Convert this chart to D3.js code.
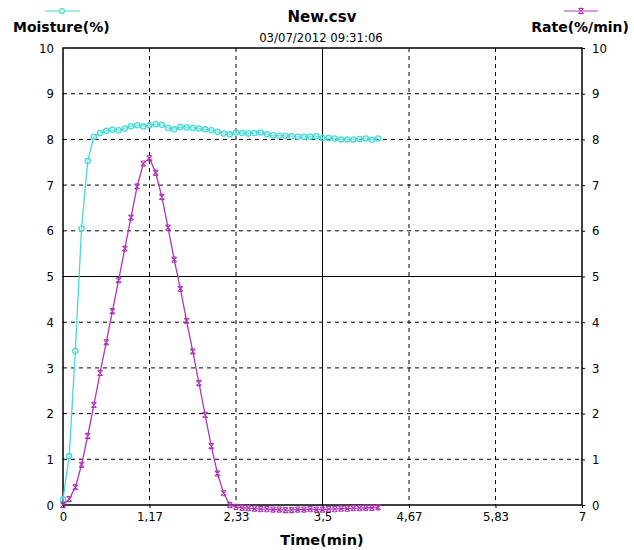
<!DOCTYPE html>
<html>
<head>
<meta charset="utf-8">
<script src="https://cdn.jsdelivr.net/npm/d3@7"></script>
<style>
    body { margin: 0; background: #fff; }
    svg { display: block; }
    .tick-label { font-family: "Liberation Sans Narrow", "DejaVu Sans Condensed", "Liberation Sans", sans-serif; font-stretch: condensed; font-size: 13px; fill: #000; }
    .bold-label { font-family: "DejaVu Sans", Tahoma, sans-serif; font-weight: bold; fill: #000; }
</style>
</head>
<body>
<svg id="chart" width="634" height="550"></svg>
<script>
// ------------------ DATA ------------------

// samples every 5 s, time in seconds
const timeSec = [0, 5, 10, 15, 20, 25, 30, 35, 40, 45, 50, 55, 60, 65, 70, 75, 80, 85, 90, 95,
    100, 105, 110, 115, 120, 125, 130, 135, 140, 145, 150, 155, 160, 165, 170, 175, 180, 185, 190, 195,
    200, 205, 210, 215, 220, 225, 230, 235, 240, 245, 250, 255];

const moisture = [0.12, 1.07, 3.37, 6.05, 7.53, 8.06, 8.14, 8.19, 8.21, 8.20,
    8.24, 8.29, 8.31, 8.28, 8.31, 8.33, 8.32, 8.25, 8.22, 8.27,
    8.26, 8.25, 8.24, 8.22, 8.20, 8.17, 8.13, 8.11, 8.15, 8.14,
    8.13, 8.14, 8.15, 8.11, 8.09, 8.08, 8.08, 8.07, 8.06, 8.05,
    8.06, 8.07, 8.03, 8.03, 8.02, 8.00, 8.00, 8.00, 8.01, 8.02,
    7.99, 8.02];

const rate = [0.0, 0.13, 0.39, 0.88, 1.51, 2.19, 2.89, 3.56, 4.24, 4.92,
    5.61, 6.29, 6.97, 7.47, 7.59, 7.27, 6.74, 6.07, 5.37, 4.73,
    4.03, 3.36, 2.67, 1.97, 1.29, 0.69, 0.26, 0.0, -0.04, -0.06,
    -0.07, -0.08, -0.09, -0.09, -0.10, -0.10, -0.11, -0.11, -0.10, -0.10,
    -0.09, -0.10, -0.10, -0.09, -0.09, -0.08, -0.08, -0.07, -0.07, -0.06,
    -0.06, -0.05];

const xTicks = [0, 7 / 6, 14 / 6, 3.5, 28 / 6, 35 / 6, 7];
const xTickLabels = ["0", "1,17", "2,33", "3,5", "4,67", "5,83", "7"];
const yTicks = [0, 1, 2, 3, 4, 5, 6, 7, 8, 9, 10];

// ------------------ SETUP ------------------

const moistureColor = "#44d8d8";
const rateColor = "#b036b8";

const svg = d3.select("#chart");
const plotLeft = 63, plotRight = 582, plotTop = 48, plotBottom = 505;

const x = d3.scaleLinear().domain([0, 7]).range([plotLeft, plotRight]);
const y = d3.scaleLinear().domain([0, 10]).range([plotBottom, plotTop]);

const moistureData = timeSec.map((t, i) => ({ t: t / 60, v: moisture[i] }));
const rateData = timeSec.map((t, i) => ({ t: t / 60, v: rate[i] }));

// ------------------ GRID ------------------

let grid = svg.append("g");

grid.selectAll("line.v")
    .data(xTicks.slice(1, -1))
    .enter().append("line")
    .attr("x1", d => x(d)).attr("x2", d => x(d))
    .attr("y1", plotTop).attr("y2", plotBottom)
    .attr("stroke", "#000")
    .attr("stroke-width", 1)
    .attr("stroke-dasharray", d => d == 3.5 ? null : "4,4");

grid.selectAll("line.h")
    .data(yTicks.slice(1, -1))
    .enter().append("line")
    .attr("x1", plotLeft).attr("x2", plotRight)
    .attr("y1", d => y(d)).attr("y2", d => y(d))
    .attr("stroke", "#000")
    .attr("stroke-width", 1)
    .attr("stroke-dasharray", d => d == 5 ? null : "4,4");

// frame
svg.append("rect")
    .attr("x", plotLeft).attr("y", plotTop)
    .attr("width", plotRight - plotLeft).attr("height", plotBottom - plotTop)
    .attr("fill", "none")
    .attr("stroke", "#000")
    .attr("stroke-width", 1.5);

// ------------------ AXES ------------------

let leftAxis = svg.append("g")
    .attr("transform", `translate(${plotLeft},0)`)
    .call(d3.axisLeft(y).tickValues(yTicks).tickSize(0).tickPadding(9).tickFormat(d3.format("d")));

let rightAxis = svg.append("g")
    .attr("transform", `translate(${plotRight},0)`)
    .call(d3.axisRight(y).tickValues(yTicks).tickSize(3).tickPadding(7).tickFormat(d3.format("d")));

let bottomAxis = svg.append("g")
    .attr("transform", `translate(0,${plotBottom})`)
    .call(d3.axisBottom(x).tickValues(xTicks).tickSize(3).tickPadding(4)
        .tickFormat((d, i) => xTickLabels[i]));

[leftAxis, rightAxis, bottomAxis].forEach(a => {
    a.select(".domain").remove();
    a.selectAll("text").attr("class", "tick-label");
});

// ------------------ SERIES ------------------

const line = d3.line().x(d => x(d.t)).y(d => y(d.v));

svg.append("path")
    .datum(moistureData)
    .attr("d", line)
    .attr("fill", "none")
    .attr("stroke", moistureColor)
    .attr("stroke-width", 1.3);

svg.append("g").selectAll("circle")
    .data(moistureData)
    .enter().append("circle")
    .attr("cx", d => x(d.t))
    .attr("cy", d => y(d.v))
    .attr("r", 2.6)
    .attr("fill", "#fff")
    .attr("fill-opacity", 0.3)
    .attr("stroke", moistureColor)
    .attr("stroke-width", 1.3);

svg.append("path")
    .datum(rateData)
    .attr("d", line)
    .attr("fill", "none")
    .attr("stroke", rateColor)
    .attr("stroke-width", 1.3);

const crossPath = "M-2.6,-2.6L2.6,2.6M-2.6,2.6L2.6,-2.6M-1.8,-2.6L1.8,-2.6M-1.8,2.6L1.8,2.6";

svg.append("g").selectAll("path")
    .data(rateData)
    .enter().append("path")
    .attr("transform", d => `translate(${x(d.t)},${y(d.v)})`)
    .attr("d", crossPath)
    .attr("fill", "none")
    .attr("stroke", rateColor)
    .attr("stroke-width", 1.1);

// ------------------ TITLES / LEGEND ------------------

svg.append("text")
    .attr("class", "bold-label")
    .attr("x", 322).attr("y", 22)
    .attr("text-anchor", "middle")
    .attr("font-size", 15)
    .text("New.csv");

svg.append("text")
    .attr("class", "tick-label")
    .attr("x", 321).attr("y", 42)
    .attr("text-anchor", "middle")
    .attr("font-size", 12)
    .text("03/07/2012 09:31:06");

// moisture legend
svg.append("line")
    .attr("x1", 45).attr("x2", 80).attr("y1", 11).attr("y2", 11)
    .attr("stroke", moistureColor).attr("stroke-width", 1.2);
svg.append("circle")
    .attr("cx", 62).attr("cy", 11).attr("r", 2.4)
    .attr("fill", "#fff").attr("stroke", moistureColor).attr("stroke-width", 1.2);
svg.append("text")
    .attr("class", "bold-label")
    .attr("x", 13).attr("y", 32)
    .attr("font-size", 14)
    .text("Moisture(%)");

// rate legend
svg.append("line")
    .attr("x1", 564).attr("x2", 598).attr("y1", 11).attr("y2", 11)
    .attr("stroke", rateColor).attr("stroke-width", 1.2);
svg.append("path")
    .attr("transform", "translate(581,11)")
    .attr("d", crossPath)
    .attr("fill", "none").attr("stroke", rateColor).attr("stroke-width", 1.1);
svg.append("text")
    .attr("class", "bold-label")
    .attr("x", 629).attr("y", 32)
    .attr("text-anchor", "end")
    .attr("font-size", 14)
    .text("Rate(%/min)");

svg.append("text")
    .attr("class", "bold-label")
    .attr("x", 322).attr("y", 545)
    .attr("text-anchor", "middle")
    .attr("font-size", 14.5)
    .text("Time(min)");
</script>
</body>
</html>
